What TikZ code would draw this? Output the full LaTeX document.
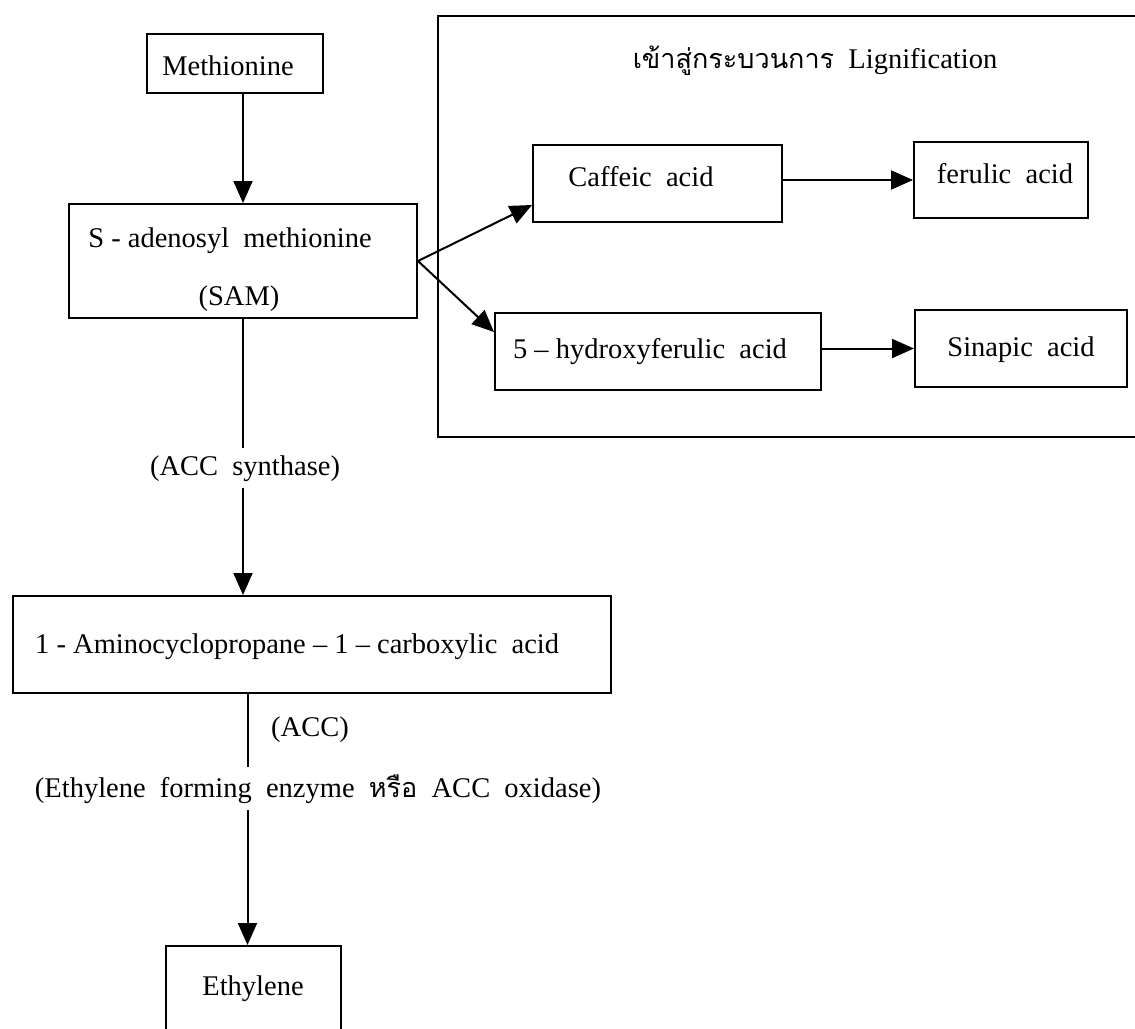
\documentclass[tikz,border=0pt]{standalone}
\usepackage{fontspec}
\setmainfont{Liberation Serif}
\newfontfamily\thaifont[Script=Thai]{Loma}
\usetikzlibrary{arrows.meta,calc}
\tikzset{
  box/.style={draw, line width=2pt, inner sep=0pt},
  lbl/.style={font=\fontsize{28.5}{28.5}\selectfont, inner sep=0pt, anchor=base},
  arr/.style={line width=2pt, -{Triangle[length=22pt,width=19pt]}},
  gap/.style={fill=white, inner xsep=0pt, inner ysep=7pt},
  thai/.style={},
}
\newcommand{\thaitxt}[1]{{\thaifont\fontsize{27}{27}\selectfont #1}}
\begin{document}
\begin{tikzpicture}[x=1pt,y=-1pt]
\useasboundingbox (0,0) rectangle (1135,1028);
% boxes
\node[box, minimum width=176, minimum height=59] (meth) at (235,63.5) {};
\node[box, minimum width=348, minimum height=114] (sam) at (243,261) {};
\node[box, anchor=north west, minimum width=720, minimum height=421] (lig) at (437,15) {};
\node[box, minimum width=249, minimum height=77] (caf) at (657.5,183.5) {};
\node[box, minimum width=174, minimum height=76] (fer) at (1001,180) {};
\node[box, minimum width=326, minimum height=77] (hyd) at (658,351.5) {};
\node[box, minimum width=212, minimum height=77] (sin) at (1021,348.5) {};
\node[box, minimum width=598, minimum height=97] (acc) at (312,644.5) {};
\node[box, anchor=north, minimum width=175, minimum height=100] (eth) at (253.5,945) {};
% texts
\node[lbl] (tmeth) at (228,75) {Methionine};
\node[lbl] (tsam1) at (230,247) {S - adenosyl\ \ methionine};
\node[lbl] (tsam2) at (239,305) {(SAM)};
\node[lbl] (ttitle) at (815,68) {\thaitxt{เข้าสู่กระบวนการ}\ \ Lignification};
\node[lbl] (tcaf) at (641,186) {Caffeic\ \ acid};
\node[lbl] (tfer) at (1005,183) {ferulic\ \ acid};
\node[lbl] (thyd) at (650,358) {5 -- hydroxyferulic\ \ acid};
\node[lbl] (tsin) at (1021,356) {Sinapic\ \ acid};
\node[lbl, anchor=base west] (tacc) at (35,653) {1 - Aminocyclopropane -- 1 -- carboxylic\ \ acid};
\node[lbl] (teth) at (253,995) {Ethylene};
% connectors
\draw[arr] (meth.south -| sam.north) -- (sam.north);
\draw[arr] (sam.east) -- ($(caf.south west)+(0,-18)$);
\draw[arr] (sam.east) -- ($(hyd.north west)+(0,20)$);
\draw[arr] (fer.west -| caf.east) -- (fer.west);
\draw[arr] (sin.west -| hyd.east) -- (sin.west);
\draw[arr] (sam.south) -- (sam.south |- acc.north);
\draw[arr] ($(acc.south -| eth.north)+(-6,0)$) -- ($(eth.north)+(-6,0)$);
% labels on vertical connectors
\node[lbl, gap] (tsyn) at (245,475) {(ACC\ \ synthase)};
\node[lbl] (tacc2) at (310,736) {(ACC)};
\node[lbl, gap] (tefe) at (318,797) {(Ethylene\ \ forming\ \ enzyme\ \ \thaitxt{หรือ}\ \ ACC\ \ oxidase)};
\end{tikzpicture}
\end{document}
